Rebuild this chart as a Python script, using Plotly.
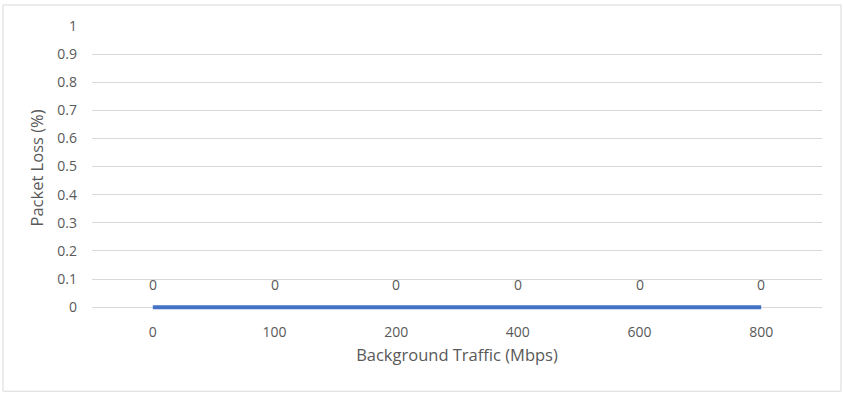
import plotly.graph_objects as go

categories = ["0", "100", "200", "400", "600", "800"]
packet_loss = [0, 0, 0, 0, 0, 0]
y_ticks = [0, 0.1, 0.2, 0.3, 0.4, 0.5, 0.6, 0.7, 0.8, 0.9, 1]

FONT = "Open Sans, Liberation Sans, sans-serif"
TXT = "#595959"
GRID = "#d9d9d9"

fig = go.Figure()
fig.add_trace(go.Scatter(
    x=categories, y=packet_loss, mode="lines",
    line=dict(color="#4472C4", width=4),
    hoverinfo="skip", showlegend=False, cliponaxis=False,
))
for i, v in enumerate(packet_loss):
    fig.add_annotation(x=i, y=v, text=str(v), showarrow=False, yshift=23,
                       font=dict(family=FONT, size=14, color=TXT))

W, H = 844, 396
L, R, T = 92, 22, 26
ymin = -0.01
ph = 281 * (1 - ymin)
B = H - T - ph
pw = W - L - R
y0_px = H - B  # pixel of bottom of plot area
fig.add_shape(type="rect", xref="paper", yref="paper",
              x0=(3 - L) / pw, x1=(841 - L) / pw,
              y0=(y0_px - 391) / ph, y1=(y0_px - 5) / ph,
              line=dict(color=GRID, width=1), fillcolor="rgba(0,0,0,0)", layer="below")

fig.update_layout(
    width=W, height=H,
    margin=dict(l=L, r=R, t=T, b=B, pad=0),
    paper_bgcolor="white", plot_bgcolor="white",
    font=dict(family=FONT, size=14, color=TXT),
    xaxis=dict(type="category", range=[-0.5, 5.5], showgrid=False,
               showline=False, zeroline=False, ticks="", ticklabelstandoff=12,
               title=dict(text="Background Traffic (Mbps)", font=dict(size=16.5, color=TXT), standoff=9),
               fixedrange=True),
    yaxis=dict(range=[ymin, 1], tickvals=y_ticks, ticktext=[f"{t:g}" for t in y_ticks],
               showgrid=True, gridcolor=GRID, gridwidth=1, zeroline=False,
               showline=False, ticks="", ticklabelstandoff=14,
               title=dict(text="Packet Loss (%)", font=dict(size=16.5, color=TXT), standoff=9),
               fixedrange=True),
)
fig.write_html("out.html")
